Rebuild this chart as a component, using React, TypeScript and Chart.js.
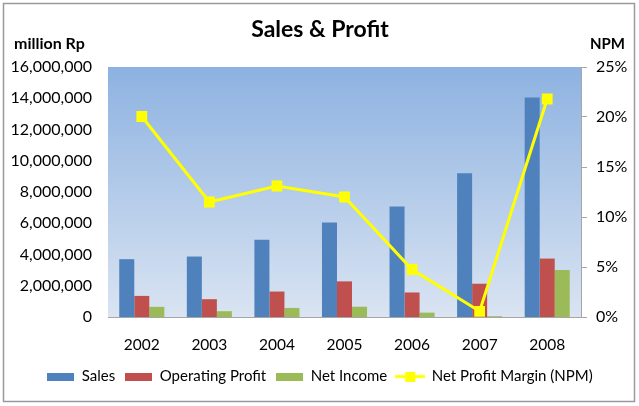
import React, { useEffect, useRef } from "react";
import { Chart, registerables } from "chart.js";

Chart.register(...registerables);

const years = ["2002", "2003", "2004", "2005", "2006", "2007", "2008"];
const sales = [3700000, 3870000, 4950000, 6050000, 7080000, 9200000, 14050000];
const operatingProfit = [1350000, 1140000, 1630000, 2280000, 1570000, 2130000, 3740000];
const netIncome = [650000, 370000, 580000, 660000, 280000, 50000, 3010000];
const npm = [20.05, 11.5, 13.1, 12.0, 4.75, 0.57, 21.8];

const FONT = "Lato, 'Open Sans', sans-serif";

function makeBox(color: string): HTMLCanvasElement {
  const c = document.createElement("canvas");
  c.width = 27;
  c.height = 8;
  const g = c.getContext("2d")!;
  g.fillStyle = color;
  g.fillRect(0, 0, 27, 8);
  return c;
}

function makeLineIcon(color: string): HTMLCanvasElement {
  const c = document.createElement("canvas");
  c.width = 30;
  c.height = 10;
  const g = c.getContext("2d")!;
  g.strokeStyle = color;
  g.lineWidth = 3;
  g.beginPath();
  g.moveTo(0, 5);
  g.lineTo(30, 5);
  g.stroke();
  g.fillStyle = color;
  g.fillRect(10, 0, 10, 10);
  return c;
}

const decorPlugin = {
  id: "decor",
  beforeDraw(chart: any) {
    const { ctx, chartArea } = chart;
    ctx.save();
    ctx.fillStyle = "#ffffff";
    ctx.fillRect(0, 0, chart.width, chart.height);
    ctx.strokeStyle = "#9a9a9a";
    ctx.lineWidth = 1.5;
    ctx.strokeRect(3.5, 3.5, 631, 398);
    const grad = ctx.createLinearGradient(0, chartArea.top, 0, chartArea.bottom);
    grad.addColorStop(0, "#8db2e1");
    grad.addColorStop(1, "#dae4f2");
    ctx.fillStyle = grad;
    ctx.fillRect(chartArea.left, chartArea.top, chartArea.right - chartArea.left, chartArea.bottom - chartArea.top);
    ctx.fillStyle = "#000000";
    ctx.textBaseline = "middle";
    ctx.textAlign = "center";
    ctx.font = `bold 23px ${FONT}`;
    ctx.fillText("Sales & Profit", 320, 30);
    ctx.textAlign = "left";
    ctx.font = `bold 16px ${FONT}`;
    ctx.fillText("million Rp", 14, 44);
    ctx.font = `bold 15px ${FONT}`;
    ctx.fillText("NPM", 590, 44);
    ctx.restore();
  },
};

export default function App() {
  const ref = useRef<HTMLCanvasElement | null>(null);

  useEffect(() => {
    document.body.style.margin = "0";
    const icons = [makeBox("#4f81bd"), makeBox("#c0504d"), makeBox("#9bbb59"), makeLineIcon("#ffff00")];
    const chart = new Chart(ref.current!, {
      type: "bar",
      data: {
        labels: years,
        datasets: [
          {
            type: "line",
            label: "Net Profit Margin (NPM)",
            data: npm,
            yAxisID: "y1",
            borderColor: "#ffff00",
            backgroundColor: "#ffff00",
            borderWidth: 3,
            pointStyle: "rect",
            pointRadius: 5.5,
            pointBackgroundColor: "#ffff00",
            pointBorderColor: "#ffff00",
            tension: 0,
            order: 0,
          } as any,
          {
            label: "Sales",
            data: sales,
            backgroundColor: "#4f81bd",
            yAxisID: "y",
            order: 1,
          },
          {
            label: "Operating Profit",
            data: operatingProfit,
            backgroundColor: "#c0504d",
            yAxisID: "y",
            order: 1,
          },
          {
            label: "Net Income",
            data: netIncome,
            backgroundColor: "#9bbb59",
            yAxisID: "y",
            order: 1,
          },
        ],
      },
      options: {
        responsive: false,
        animation: false,
        devicePixelRatio: 1,
        layout: { padding: { top: 67, bottom: 12, left: 0, right: 0 } },
        datasets: {
          bar: { categoryPercentage: 0.667, barPercentage: 1 },
        },
        plugins: {
          title: { display: false },
          tooltip: { enabled: false },
          legend: {
            position: "bottom",
            labels: {
              usePointStyle: true,
              pointStyleWidth: 28,
              boxHeight: 10,
              padding: 9,
              color: "#000000",
              font: { family: FONT, size: 15 },
              generateLabels: () => {
                const names = ["Sales", "Operating Profit", "Net Income", "Net Profit Margin (NPM)"];
                return names.map((n, i) => ({
                  text: n,
                  pointStyle: icons[i] as any,
                  fillStyle: "transparent",
                  strokeStyle: "transparent",
                  lineWidth: 0,
                  hidden: false,
                  datasetIndex: i,
                }));
              },
            },
          },
        },
        scales: {
          x: {
            grid: { display: false, drawTicks: false },
            border: { display: true, color: "#a6a6a6", width: 1 },
            ticks: { color: "#000000", font: { family: FONT, size: 15.5 }, padding: 19 },
            afterFit: (s: any) => {
              s.height = 43;
            },
          },
          y: {
            position: "left",
            min: 0,
            max: 16000000,
            grid: { display: false, drawTicks: false },
            border: { display: false },
            ticks: {
              stepSize: 2000000,
              color: "#000000",
              font: { family: FONT, size: 16 },
              padding: 16,
              callback: (v: any) => Number(v).toLocaleString("en-US"),
            },
            afterFit: (s: any) => {
              s.width = 108;
            },
          },
          y1: {
            position: "right",
            min: 0,
            max: 25,
            grid: { display: true, drawOnChartArea: false, drawTicks: true, tickLength: 6, color: "#a6a6a6" },
            border: { display: true, color: "#a6a6a6", width: 1 },
            ticks: {
              stepSize: 5,
              color: "#000000",
              font: { family: FONT, size: 16 },
              padding: 9,
              callback: (v: any) => `${v}%`,
            },
            afterFit: (s: any) => {
              s.width = 58;
            },
          },
        },
      },
      plugins: [decorPlugin],
    });
    return () => chart.destroy();
  }, []);

  return (
    <div style={{ position: "fixed", left: 0, top: 0, width: 639, height: 406 }}>
      <canvas ref={ref} width={639} height={406} style={{ width: 639, height: 406, display: "block" }} />
    </div>
  );
}
